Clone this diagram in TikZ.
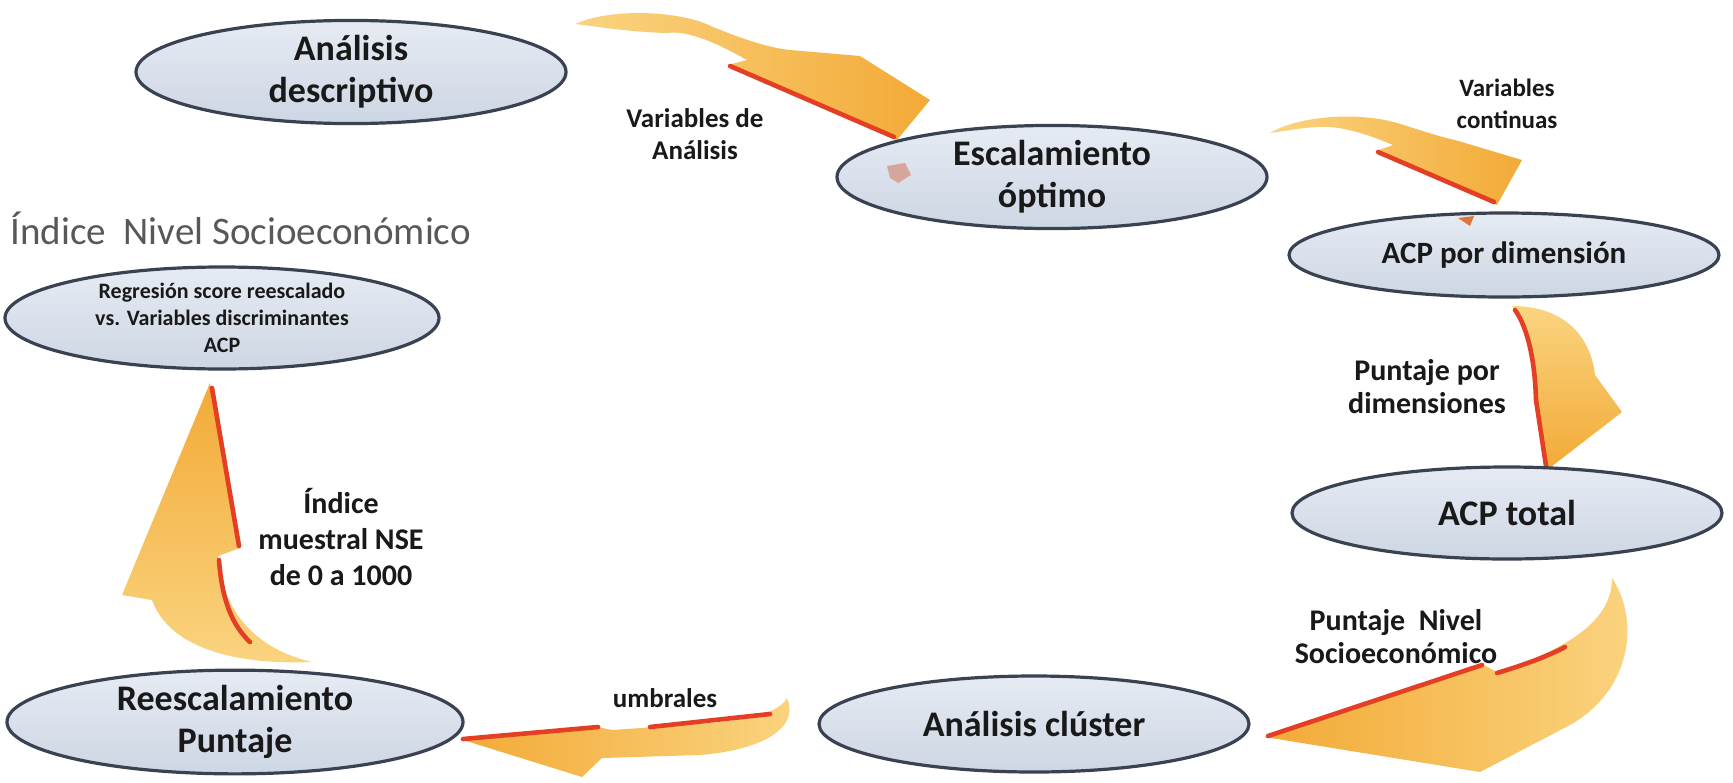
\documentclass[tikz,border=0pt]{standalone}
\usepackage{fontspec}
\setmainfont{Carlito}
\usetikzlibrary{shapes.geometric}
\definecolor{elltop}{RGB}{230,235,243}
\definecolor{ellbot}{RGB}{205,214,228}
\definecolor{elldraw}{RGB}{58,66,82}
\definecolor{arrL}{RGB}{250,212,128}
\definecolor{arrD}{RGB}{243,170,55}
\definecolor{redge}{RGB}{228,62,36}
\definecolor{txt}{RGB}{25,25,25}
\definecolor{ttl}{RGB}{88,88,88}
\tikzset{
 ell/.style={ellipse, draw=elldraw, line width=1.6pt, top color=elltop, bottom color=ellbot,
   inner sep=0pt, align=center, text=txt, font=\bfseries\fontsize{18}{21}\selectfont,
   minimum width=215pt, minimum height=46pt},
 lbl/.style={align=center, text=txt, inner sep=0pt, font=\bfseries\fontsize{13.5}{16}\selectfont},
 redl/.style={draw=redge, line width=2.3pt, line cap=round, line join=round},
}
\begin{document}
\begin{tikzpicture}[x=0.5pt,y=-0.5pt]
\useasboundingbox (0,0) rectangle (1733,782);
\fill[white] (0,0) rectangle (1733,782);

% ---------- block arrows ----------
% 1: descriptivo -> escalamiento
\shade[left color=arrL, right color=arrD]
  (575,24) .. controls (610,8) and (680,10) .. (713,27)
  .. controls (745,40) and (770,48) .. (790,50) -- (860,56) -- (930,100) -- (897,140)
  -- (728,65) -- (747,60) .. controls (720,45) and (690,30) .. (667,33)
  .. controls (630,32) and (600,27) .. cycle;
\draw[redl] (730,66) -- (894,137);

% 2: escalamiento -> ACP por dimension
\shade[left color=arrL, right color=arrD]
  (1270,133) .. controls (1300,115) and (1360,112) .. (1397,123)
  .. controls (1420,130) and (1440,137) .. (1455,140) -- (1522,160) -- (1497,205)
  -- (1376,151) -- (1393,145) .. controls (1370,135) and (1340,125) .. (1317,127)
  .. controls (1300,128) and (1285,131) .. cycle;
\draw[redl] (1378,152) -- (1494,202);

% 3: ACP por dimension -> ACP total
\shade[top color=arrL, bottom color=arrD]
  (1512,306) .. controls (1560,306) and (1590,332) .. (1595,375)
  -- (1622,412) -- (1547,470) -- (1536,400)
  .. controls (1535,360) and (1528,325) .. cycle;
\draw[redl] (1515,310) .. controls (1528,328) and (1535,362) .. (1536,400) -- (1546,466);

% 4: ACP total -> cluster
\shade[left color=arrD, right color=arrL]
  (1612,578) .. controls (1640,620) and (1632,690) .. (1570,725)
  -- (1480,772) -- (1265,737) -- (1482,664) -- (1497,672)
  .. controls (1580,645) and (1612,615) .. cycle;
\draw[redl] (1268,736) -- (1482,665);
\draw[redl] (1497,673) .. controls (1530,663) and (1550,655) .. (1565,647);

% 5: cluster -> reescalamiento
\shade[left color=arrD, right color=arrL]
  (787,698) .. controls (800,728) and (762,750) .. (700,755)
  -- (602,758) -- (582,777) -- (460,739) -- (598,727) -- (612,730)
  -- (700,724) .. controls (750,720) and (780,712) .. cycle;
\draw[redl] (463,739) -- (598,727);
\draw[redl] (650,727) -- (770,714);

% 6: reescalamiento -> regresion
\shade[top color=arrD, bottom color=arrL]
  (210,383) -- (240,548) -- (218,556)
  .. controls (222,615) and (260,650) .. (312,662)
  .. controls (240,665) and (170,650) .. (152,600)
  -- (122,595) -- cycle;
\draw[redl] (212,388) -- (239,546);
\draw[redl] (219,560) .. controls (222,600) and (232,625) .. (250,642);

% ---------- ellipses ----------
\node[ell] (desc) at (351,72) {Análisis\\descriptivo};
\node[ell] (esc) at (1052,177) {Escalamiento\\óptimo};
\node[ell, minimum height=42pt, font=\bfseries\fontsize{15.5}{18}\selectfont] (acpd) at (1504,255) {ACP por dimensión};
\node[ell] (acpt) at (1507,513) {ACP total};
\node[ell, minimum height=48pt] (clus) at (1034,724) {Análisis clúster};
\node[ell, minimum width=228pt, minimum height=48pt] (resc) at (235,722) {Reescalamiento\\Puntaje};
\node[ell, minimum width=217pt, minimum height=51pt, font=\bfseries\fontsize{11}{13.5}\selectfont] (regr) at (222,318)
  {Regresión score reescalado\\vs. Variables discriminantes\\ACP};

% small faint arrow tips over ellipses
\fill[fill={rgb,255:red,214;green,166;blue,156}] (887,166) -- (905,163) -- (911,175) -- (898,183) -- (890,178) -- cycle;
\fill[fill={rgb,255:red,222;green,118;blue,62}] (1458,218) -- (1474,216) -- (1470,226) -- cycle;

% ---------- labels ----------
\node[anchor=west, inner sep=0pt, text=ttl, font=\fontsize{19.5}{22}\selectfont] (title) at (10,228) {Índice~~Nivel Socioeconómico};
\node[lbl] (l1) at (695,134) {Variables de\\Análisis};
\node[lbl, font=\bfseries\fontsize{12.5}{16}\selectfont] (l2) at (1507,104) {Variables\\continuas};
\node[lbl, font=\bfseries\fontsize{15}{16.5}\selectfont] (l3) at (1427,387) {Puntaje por\\dimensiones};
\node[lbl, font=\bfseries\fontsize{15}{16.5}\selectfont] (l4) at (1396,637) {Puntaje\ \ Nivel\\Socioeconómico};
\node[lbl] (l5) at (665,698) {umbrales};
\node[lbl, font=\bfseries\fontsize{15}{18}\selectfont] (l6) at (341,537) {Índice\\muestral NSE\\de 0 a 1000};
\end{tikzpicture}
\end{document}
